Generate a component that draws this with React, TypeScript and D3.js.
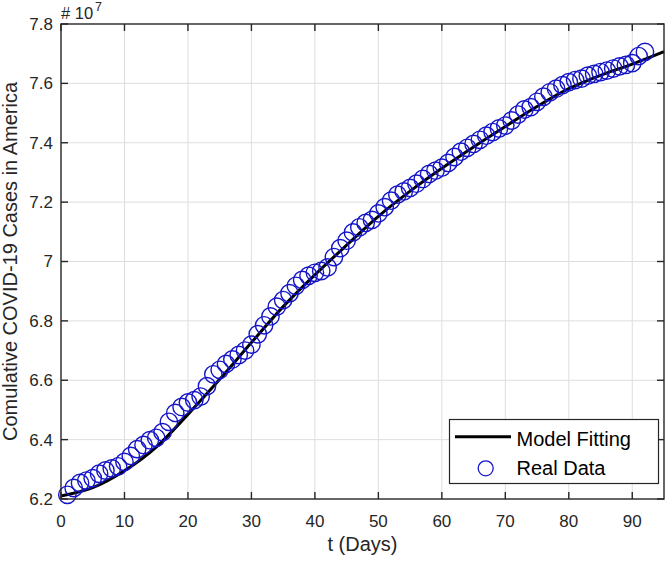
import React from 'react';
import * as d3 from 'd3';

// Real data: cumulative cases (x 10^7), day 1..92
const caseValues: number[] = [
  6.214, 6.237, 6.254, 6.262, 6.270, 6.285, 6.296, 6.303, 6.310, 6.325,
  6.345, 6.368, 6.382, 6.398, 6.406, 6.425, 6.460, 6.490, 6.510, 6.525,
  6.533, 6.545, 6.580, 6.620, 6.635, 6.655, 6.670, 6.685, 6.700, 6.720,
  6.755, 6.785, 6.815, 6.848, 6.870, 6.893, 6.918, 6.938, 6.952, 6.962,
  6.968, 6.980, 7.015, 7.045, 7.070, 7.098, 7.115, 7.130, 7.140, 7.162,
  7.183, 7.205, 7.225, 7.236, 7.248, 7.262, 7.278, 7.295, 7.306, 7.316,
  7.332, 7.352, 7.370, 7.383, 7.396, 7.410, 7.424, 7.436, 7.448, 7.458,
  7.475, 7.495, 7.512, 7.520, 7.538, 7.555, 7.570, 7.582, 7.594, 7.604,
  7.611, 7.616, 7.626, 7.632, 7.638, 7.643, 7.650, 7.657, 7.662, 7.668,
  7.692, 7.706,
];
const caseDays: number[] = caseValues.map((_, i) => i + 1);

// Model fitting curve
const modelDays: number[] = [0, 5, 10, 15, 20, 25, 30, 35, 40, 45, 50, 55, 60, 65, 70, 75, 80, 85, 90, 95];
const modelValues: number[] = [
  6.210, 6.238, 6.295, 6.375, 6.485, 6.603, 6.727, 6.848, 6.955, 7.055,
  7.152, 7.237, 7.314, 7.386, 7.455, 7.522, 7.582, 7.627, 7.665, 7.707,
];

const xTicks: number[] = [0, 10, 20, 30, 40, 50, 60, 70, 80, 90];
const yTicks: number[] = [6.2, 6.4, 6.6, 6.8, 7.0, 7.2, 7.4, 7.6, 7.8];
const yTickLabels: string[] = ['6.2', '6.4', '6.6', '6.8', '7', '7.2', '7.4', '7.6', '7.8'];

const FONT = '"Liberation Sans", Arial, Helvetica, sans-serif';
const AXIS = '#262626';
const GRID = '#dedede';
const BLUE = '#1414c8';

export default function App() {
  const W = 665;
  const H = 561;
  const L = 61, T = 24, R = 664, B = 499;
  const x = d3.scaleLinear().domain([0, 95]).range([L, R]);
  const y = d3.scaleLinear().domain([6.2, 7.8]).range([B, T]);

  const line = d3
    .line<number>()
    .x((_, i) => x(modelDays[i]))
    .y((v) => y(v))
    .curve(d3.curveMonotoneX);

  const tickLen = 7;

  return (
    <svg
      width={W}
      height={H}
      viewBox={`0 0 ${W} ${H}`}
      style={{ position: 'absolute', left: 0, top: 0, background: '#fff' }}
      fontFamily={FONT}
    >
      <rect x={0} y={0} width={W} height={H} fill="#fff" />
      {/* grid */}
      {xTicks.slice(1).map((t) => (
        <line key={'gx' + t} x1={x(t)} x2={x(t)} y1={T} y2={B} stroke={GRID} strokeWidth={1} />
      ))}
      {yTicks.slice(1, -1).map((t) => (
        <line key={'gy' + t} x1={L} x2={R} y1={y(t)} y2={y(t)} stroke={GRID} strokeWidth={1} />
      ))}

      {/* model line */}
      <path d={line(modelValues) || ''} fill="none" stroke="#000" strokeWidth={3} />

      {/* data circles */}
      {caseValues.map((v, i) => (
        <circle key={'c' + i} cx={x(caseDays[i])} cy={y(v)} r={8.7} fill="none" stroke={BLUE} strokeWidth={1.4} />
      ))}

      {/* axes box */}
      <rect x={L} y={T} width={R - L} height={B - T} fill="none" stroke={AXIS} strokeWidth={1.4} />
      {xTicks.map((t) => (
        <g key={'tx' + t}>
          <line x1={x(t)} x2={x(t)} y1={B} y2={B - tickLen} stroke={AXIS} strokeWidth={1.4} />
          <line x1={x(t)} x2={x(t)} y1={T} y2={T + tickLen} stroke={AXIS} strokeWidth={1.4} />
          <text x={x(t)} y={527} textAnchor="middle" fontSize={17} fill="#262626">
            {t}
          </text>
        </g>
      ))}
      {yTicks.map((t, i) => (
        <g key={'ty' + t}>
          <line x1={L} x2={L + tickLen} y1={y(t)} y2={y(t)} stroke={AXIS} strokeWidth={1.4} />
          <line x1={R} x2={R - tickLen} y1={y(t)} y2={y(t)} stroke={AXIS} strokeWidth={1.4} />
          <text x={53} y={y(t)} dy="0.35em" textAnchor="end" fontSize={17} fill="#262626">
            {yTickLabels[i]}
          </text>
        </g>
      ))}

      {/* exponent */}
      <text x={61} y={18.5} fontSize={16.5} fill="#262626">
        # 10
      </text>
      <text x={95} y={11} fontSize={12.5} fill="#262626">
        7
      </text>

      {/* axis labels */}
      <text x={(L + R) / 2} y={551} textAnchor="middle" fontSize={20} fill="#262626">
        t (Days)
      </text>
      <text
        transform={`translate(17,${(T + B) / 2}) rotate(-90)`}
        textAnchor="middle"
        fontSize={20}
        fill="#262626"
      >
        Comulative COVID-19 Cases in America
      </text>

      {/* legend */}
      <rect x={449.5} y={419.5} width={209} height={64} fill="#fff" stroke={AXIS} strokeWidth={1.2} />
      <line x1={455} x2={511} y1={436.7} y2={436.7} stroke="#000" strokeWidth={3} />
      <text x={516.5} y={446} fontSize={20} fill="#000">
        Model Fitting
      </text>
      <circle cx={485.7} cy={468.3} r={7.5} fill="none" stroke={BLUE} strokeWidth={1.3} />
      <text x={516.5} y={475} fontSize={20} fill="#000">
        Real Data
      </text>
    </svg>
  );
}
